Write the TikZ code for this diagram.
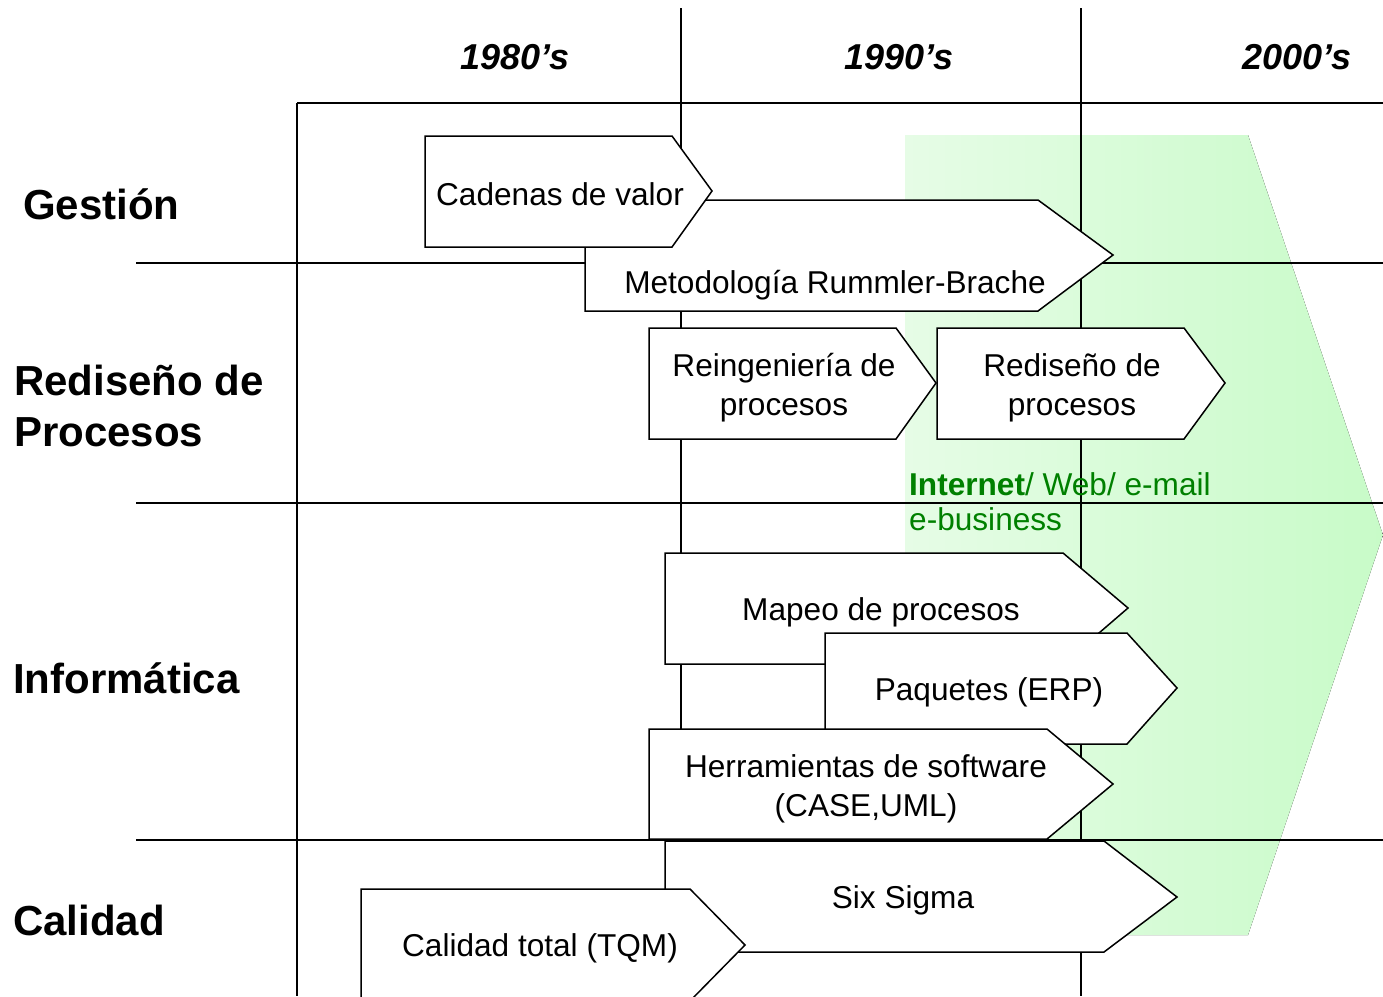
\documentclass[tikz,border=0pt]{standalone}
\usepackage{fontspec}
\setmainfont{Liberation Sans}
\definecolor{glight}{RGB}{230,252,230}
\definecolor{gdark}{RGB}{200,251,200}
\definecolor{gtext}{RGB}{0,128,0}
\begin{document}
\begin{tikzpicture}[x=1pt,y=-1pt,
  gridline/.style={line width=1.5pt},
  chev/.style={draw, fill=white, line width=1.5pt, line join=miter},
  boxtxt/.style={inner sep=0pt, align=center, font=\fontsize{31.6}{39}\selectfont},
  cat/.style={inner sep=0pt, anchor=west, align=left, font=\fontsize{42}{51}\selectfont\bfseries},
  yr/.style={inner sep=0pt, font=\fontsize{36}{40}\selectfont\bfseries\itshape},
  gtxt/.style={inner sep=0pt, anchor=west, align=left, text=gtext, font=\fontsize{31.6}{35}\selectfont}]
\useasboundingbox (0,0) rectangle (1383,996);
\clip (0,0) rectangle (1383,996);
% green background arrow
\fill[left color=glight, right color=gdark] (905,135) -- (1248,135) -- (1383,535) -- (1248,935) -- (905,935) -- cycle;
% grid
\draw[gridline] (297,103) -- (1383,103);
\draw[gridline] (297,103) -- (297,996);
\draw[gridline] (681,8) -- (681,996);
\draw[gridline] (1081,8) -- (1081,996);
\foreach \yy in {263,503,840} \draw[gridline] (136,\yy) -- (1383,\yy);
% years
\node[yr] (y80) at (515,57) {1980’s};
\node[yr] (y90) at (899,57) {1990’s};
\node[yr] (y00) at (1297,57) {2000’s};
% categories
\node[cat] (cg) at (23,204) {Gestión};
\node[cat] (cr) at (14,406) {Rediseño de\\Procesos};
\node[cat] (ci) at (13,678) {Informática};
\node[cat] (cc) at (13,920) {Calidad};
% green text
\node[gtxt] (inet) at (909,502) {\textbf{Internet}/ Web/ e-mail\\e-business};
% chevrons
\path[chev] (585,200) -- (1038,200) -- (1113,255) -- (1038,311) -- (585,311) -- cycle;
\node[boxtxt] (metod) at (835,285.5) {Metodología Rummler-Brache};
\path[chev] (425,136) -- (672,136) -- (712,191) -- (672,247) -- (425,247) -- cycle;
\node[boxtxt] (caden) at (560,194.5) {Cadenas de valor};
\path[chev] (649,328) -- (896,328) -- (936,383) -- (896,439) -- (649,439) -- cycle;
\node[boxtxt] (reing) at (784,387.5) {Reingeniería de\\procesos};
\path[chev] (937,328) -- (1184,328) -- (1225,383) -- (1184,439) -- (937,439) -- cycle;
\node[boxtxt] (redis) at (1072,387.5) {Rediseño de\\procesos};
\path[chev] (665,553) -- (1063,553) -- (1128,608) -- (1063,664) -- (665,664) -- cycle;
\node[boxtxt] (mapeo) at (881,612.5) {Mapeo de procesos};
\path[chev] (825,633) -- (1127,633) -- (1177,688) -- (1127,744) -- (825,744) -- cycle;
\node[boxtxt] (paq) at (989,692.5) {Paquetes (ERP)};
\path[chev] (649,729) -- (1047,729) -- (1113,784) -- (1047,839) -- (649,839) -- cycle;
\node[boxtxt] (herr) at (866,788.5) {Herramientas de software\\(CASE,UML)};
\path[chev] (665,841) -- (1104,841) -- (1177,897) -- (1104,952) -- (665,952) -- cycle;
\node[boxtxt] (six) at (903,900.5) {Six Sigma};
\path[chev] (361,889) -- (690,889) -- (745,945) -- (690,1001) -- (361,1001) -- cycle;
\node[boxtxt] (tqm) at (540,948.5) {Calidad total (TQM)};
\end{tikzpicture}
\end{document}
